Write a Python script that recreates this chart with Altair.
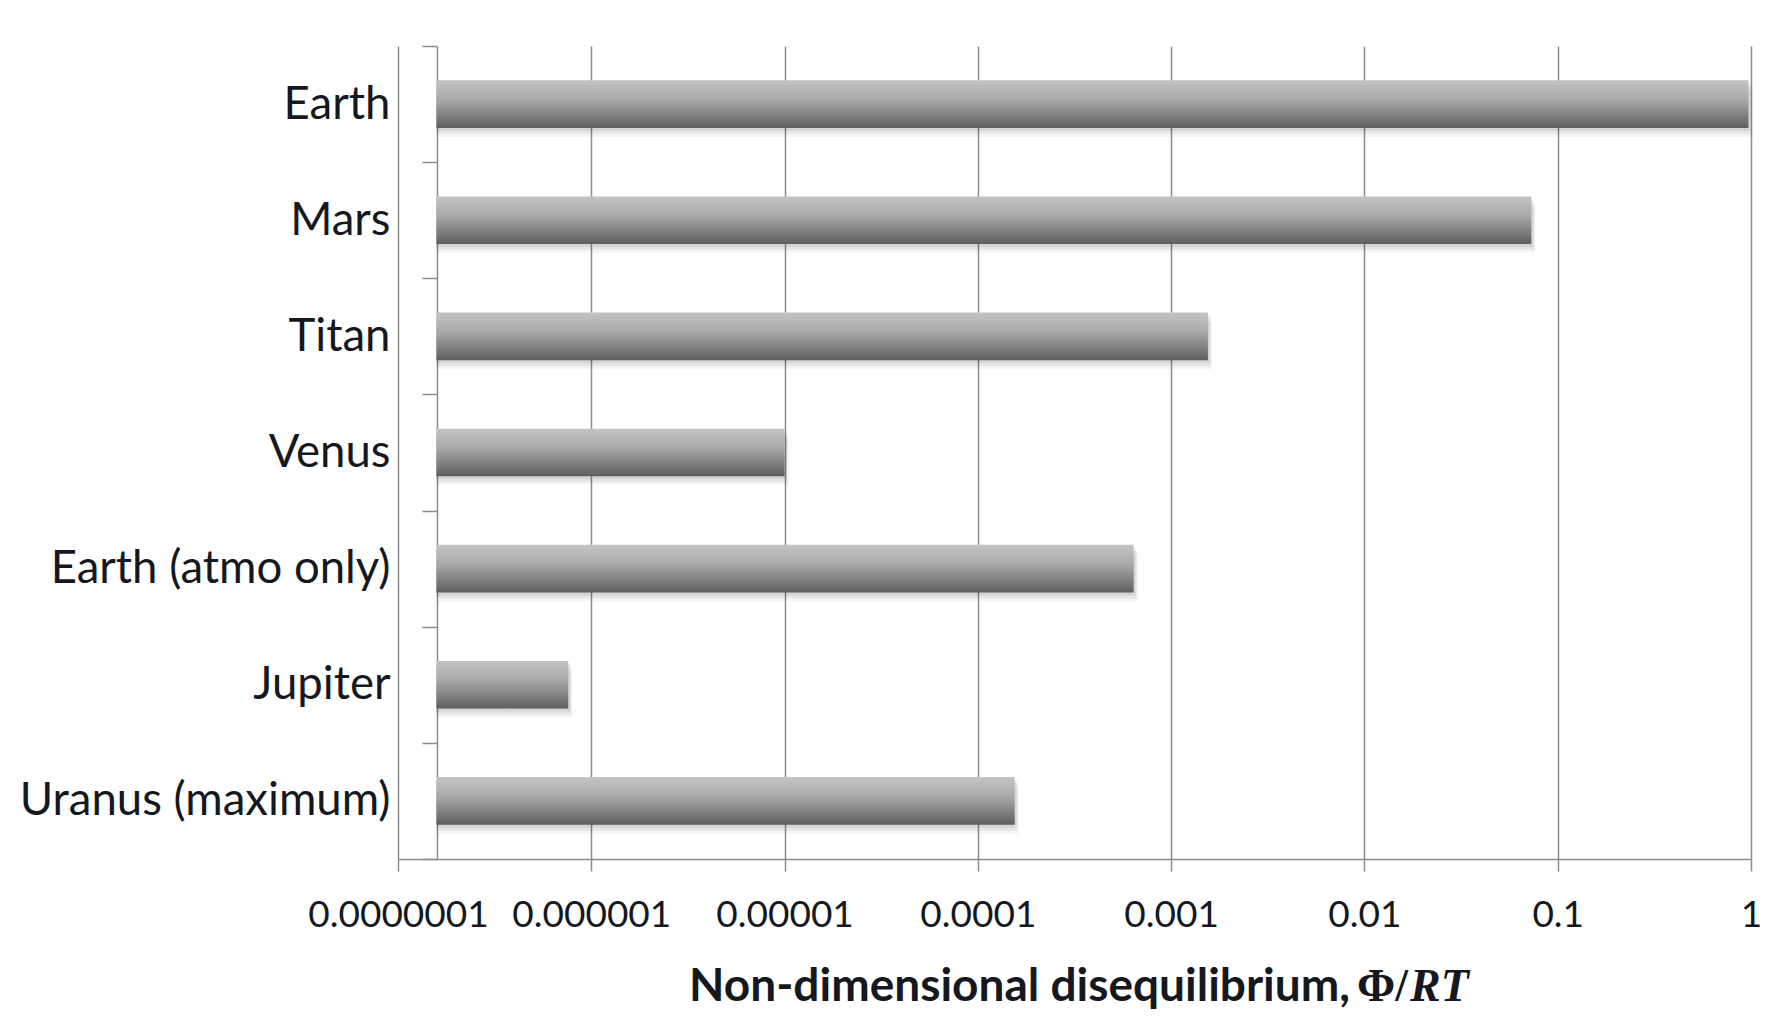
import json
import altair as alt
import pandas as pd

bodies = ["Earth", "Mars", "Titan", "Venus", "Earth (atmo only)", "Jupiter", "Uranus (maximum)"]
values = [0.97, 0.073, 0.00155, 0.00001, 0.00064, 0.00000076, 0.000155]
axis_cross = 1.58e-7
tick_values = [1e-7, 1e-6, 1e-5, 1e-4, 1e-3, 1e-2, 1e-1, 1]
tick_labels = ["0.0000001", "0.000001", "0.00001", "0.0001", "0.001", "0.01", "0.1", "1"]
title_main = "Non-dimensional disequilibrium,"
title_phi = "\u03a6/"
title_rt = "RT"

df = pd.DataFrame({"body": bodies, "value": values, "base": [axis_cross] * len(bodies)})

GRID = "#8c8c8c"
TEXT = "#161820"

xscale = alt.Scale(type="log", domain=[tick_values[0], tick_values[-1]])
yscale = alt.Scale(paddingInner=0, paddingOuter=0)
label_expr = json.dumps(tick_labels) + "[round(log(datum.value)/LN10)+7]"

x_axis = alt.Axis(
    values=tick_values, labelExpr=label_expr, title=None,
    grid=True, gridColor=GRID, gridWidth=1.5,
    domainColor=GRID, domainWidth=1.5, tickColor=GRID, tickWidth=1.5, tickSize=12,
    labelFont="Lato", labelFontSize=37, labelColor=TEXT, labelPadding=26,
    labelFlush=False, labelOverlap=False, labelLimit=0,
)
y_axis = alt.Axis(
    title=None, offset=-39, grid=False,
    domainColor=GRID, domainWidth=1.5, tickColor=GRID, tickWidth=1.5, tickSize=15,
    tickBand="extent", labelFont="Lato", labelFontSize=45.5, labelColor=TEXT,
    labelPadding=32, labelLimit=0,
)

gradient = alt.Gradient(
    gradient="linear",
    stops=[
        alt.GradientStop(color="#c4c4c4", offset=0),
        alt.GradientStop(color="#a9a9a9", offset=0.4),
        alt.GradientStop(color="#7a7a7a", offset=0.78),
        alt.GradientStop(color="#5e5e5e", offset=1),
    ],
    x1=0, x2=0, y1=0, y2=1,
)

enc = dict(
    x=alt.X("value:Q", scale=xscale, axis=x_axis),
    x2="base:Q",
    y=alt.Y("body:N", sort=bodies, scale=yscale, axis=y_axis),
)
bar_h = {"band": 0.41}

base = alt.Chart(df)
shadow1 = base.mark_bar(fill="#000000", opacity=0.04, xOffset=4, yOffset=9, height=bar_h).encode(**enc)
shadow2 = base.mark_bar(fill="#000000", opacity=0.06, xOffset=3, yOffset=6, height=bar_h).encode(**enc)
shadow3 = base.mark_bar(fill="#000000", opacity=0.07, xOffset=2, yOffset=3, height=bar_h).encode(**enc)
bars = base.mark_bar(fill=gradient, height=bar_h).encode(**enc)

t1 = alt.Chart(pd.DataFrame({"t": [title_main]})).mark_text(
    font="Lato", fontSize=46, fontWeight="bold", color=TEXT, align="right", baseline="alphabetic"
).encode(text="t:N", x=alt.value(952), y=alt.value(955))
t2 = alt.Chart(pd.DataFrame({"t": [title_phi]})).mark_text(
    font="Liberation Serif", fontSize=46, fontWeight="bold", color=TEXT, align="left", baseline="alphabetic"
).encode(text="t:N", x=alt.value(959), y=alt.value(955))
t3 = alt.Chart(pd.DataFrame({"t": [title_rt]})).mark_text(
    font="Liberation Serif", fontSize=46, fontWeight="bold", fontStyle="italic", color=TEXT,
    align="left", baseline="alphabetic"
).encode(text="t:N", x=alt.value(1012), y=alt.value(955))

chart = (
    alt.layer(shadow1, shadow2, shadow3, bars, t1, t2, t3)
    .properties(
        width=1353, height=813,
        autosize=alt.AutoSizeParams(type="none"),
        padding={"left": 390, "top": 38, "right": 26, "bottom": 160},
        background="white",
    )
    .configure_view(strokeOpacity=0)
)

chart.save("out.html", embed_options={"renderer": "svg", "actions": False})
